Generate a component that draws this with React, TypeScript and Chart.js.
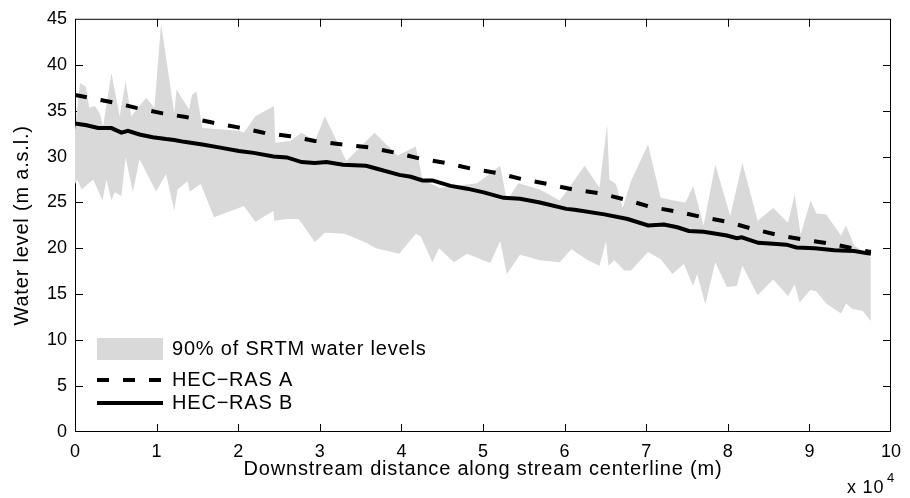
import React, { useEffect, useRef } from "react";
import { Chart, registerables } from "chart.js";

Chart.register(...registerables);

// Downstream distance (m) and water level (m a.s.l.)
const srtmUpperDist = [0, 608, 1338, 1740, 2433, 3041, 3443, 4465, 5474, 6204, 6898, 7701, 8723, 9732, 10547, 12165, 12445, 13990, 14319, 14878, 15608, 20073, 20681, 22105, 24392, 24538, 26363, 27774, 29404, 30620, 33248, 36703, 39538, 41764, 42579, 44611, 45827, 49270, 52105, 52920, 54343, 56971, 59404, 60219, 62445, 64270, 65207, 65487, 66302, 67117, 68127, 70231, 71776, 73394, 74124, 74818, 75754, 77044, 78467, 79891, 80292, 81788, 83662, 85560, 87384, 88200, 88930, 90146, 90839, 92056, 93881, 94489, 95499, 97530];
const srtmUpperLevel = [32.9, 38.0, 37.6, 35.3, 35.5, 34.7, 33.3, 39.1, 34.4, 38.2, 34.4, 35.3, 36.4, 35.3, 44.5, 34.7, 37.3, 35.1, 36.7, 37.1, 33.1, 32.8, 32.6, 34.4, 35.5, 31.5, 31.7, 32.6, 31.7, 34.4, 29.5, 32.6, 30.1, 31.1, 27.5, 26.6, 26.7, 27.1, 29.0, 25.2, 27.1, 26.4, 25.2, 26.2, 29.0, 26.6, 33.5, 27.5, 27.0, 24.4, 27.3, 31.3, 25.5, 25.2, 25.1, 25.0, 26.8, 22.5, 29.1, 24.8, 23.5, 29.3, 23.0, 24.4, 22.8, 25.9, 21.5, 25.2, 23.8, 23.7, 21.4, 22.5, 20.3, 19.0];

const srtmLowerDist = [0, 280, 815, 2226, 3370, 3856, 4465, 4866, 5681, 6204, 7092, 7908, 9939, 11156, 12165, 12567, 13783, 14075, 15414, 17032, 20073, 20681, 22105, 24331, 24416, 25949, 27372, 27981, 29404, 30620, 33054, 35681, 36898, 39745, 41764, 42372, 43796, 44611, 46436, 48054, 50888, 52105, 52920, 54538, 56971, 59404, 60827, 62859, 64270, 65085, 65365, 66095, 67311, 68127, 70231, 71776, 73200, 74611, 75754, 76241, 77251, 78467, 79891, 81100, 81788, 83662, 85560, 87384, 88200, 88808, 90146, 90839, 92056, 93881, 94489, 95292, 96509, 97530];
const srtmLowerLevel = [27.0, 27.5, 26.4, 27.5, 25.2, 27.5, 25.2, 26.1, 25.7, 29.9, 26.1, 29.7, 26.2, 28.1, 24.1, 26.4, 27.3, 26.2, 27.0, 23.4, 24.4, 24.6, 22.9, 24.1, 23.0, 23.2, 23.2, 22.5, 20.7, 21.7, 21.6, 20.6, 20.0, 19.4, 21.6, 21.3, 18.5, 20.0, 18.5, 19.4, 18.4, 20.8, 17.2, 19.3, 18.7, 18.5, 19.9, 18.7, 18.1, 20.8, 18.1, 18.7, 17.6, 17.6, 19.6, 18.8, 17.2, 18.3, 15.9, 17.2, 13.9, 18.5, 15.8, 15.9, 18.1, 14.9, 16.6, 14.8, 16.1, 14.1, 15.5, 15.3, 14.0, 12.9, 14.0, 13.4, 13.2, 12.1];

const hecADist = [0, 4659, 7506, 10742, 13589, 16825, 19866, 23114, 26363, 29404, 32847, 36095, 39331, 42178, 45414, 48455, 51703, 54951, 57993, 61034, 64270, 67518, 70560, 73808, 76849, 79891, 83127, 86375, 89623, 92665, 95900, 97530];
const hecALevel = [36.7, 35.9, 35.3, 34.7, 34.3, 33.7, 33.2, 32.6, 32.2, 31.7, 31.3, 31.0, 30.4, 29.8, 29.3, 28.7, 28.2, 27.5, 27.0, 26.4, 26.0, 25.3, 24.5, 24.0, 23.4, 22.9, 22.1, 21.4, 20.9, 20.5, 19.9, 19.6];

const hecBDist = [0, 1423, 2835, 4465, 5681, 6484, 7908, 9526, 11156, 12165, 13382, 15608, 17640, 20073, 21898, 24331, 25949, 27774, 29404, 30815, 32847, 35681, 36898, 39745, 41156, 42579, 43796, 46022, 48054, 50085, 52518, 54538, 56971, 60219, 61229, 64878, 67725, 70231, 72178, 73808, 75219, 77044, 79891, 81107, 81715, 83735, 85560, 87190, 88406, 90633, 93066, 95499, 97530];
const hecBLevel = [33.6, 33.4, 33.1, 33.1, 32.6, 32.8, 32.4, 32.1, 31.9, 31.8, 31.6, 31.3, 31.0, 30.6, 30.4, 30.0, 29.9, 29.4, 29.3, 29.4, 29.1, 29.0, 28.7, 28.0, 27.8, 27.4, 27.4, 26.8, 26.5, 26.1, 25.5, 25.4, 25.0, 24.3, 24.2, 23.7, 23.2, 22.5, 22.6, 22.3, 21.9, 21.8, 21.4, 21.1, 21.2, 20.6, 20.5, 20.4, 20.1, 20.0, 19.8, 19.7, 19.4];

const xTickValues = [0, 10000, 20000, 30000, 40000, 50000, 60000, 70000, 80000, 90000, 100000];
const yTickValues = [0, 5, 10, 15, 20, 25, 30, 35, 40, 45];

const seriesLabels = ["90% of SRTM water levels", "HEC\u2212RAS A", "HEC\u2212RAS B"];
const xTitle = "Downstream distance along stream centerline (m)";
const yTitle = "Water level (m a.s.l.)";

const FONT = '"Liberation Sans", Arial, Helvetica, sans-serif';
const GRAY = "rgb(217,217,217)";

const zip = (xs: number[], ys: number[]) => xs.map((x, i) => ({ x, y: ys[i] }));

const matlabAxes = {
  id: "matlabAxes",
  beforeDatasetsDraw(chart: any) {
    const { ctx, chartArea: a, scales } = chart;
    const x = scales.x;
    const y = scales.y;
    ctx.save();
    ctx.strokeStyle = "#000";
    ctx.lineWidth = 1;
    ctx.strokeRect(a.left + 0.5, a.top + 0.5, a.right - a.left - 1, a.bottom - a.top - 1);
    const tl = 8;
    ctx.beginPath();
    xTickValues.slice(1, -1).forEach((v) => {
      const px = Math.round(x.getPixelForValue(v)) + 0.5;
      ctx.moveTo(px, a.bottom);
      ctx.lineTo(px, a.bottom - tl);
      ctx.moveTo(px, a.top);
      ctx.lineTo(px, a.top + tl);
    });
    yTickValues.slice(1, -1).forEach((v) => {
      const py = Math.round(y.getPixelForValue(v)) + 0.5;
      ctx.moveTo(a.left, py);
      ctx.lineTo(a.left + tl, py);
      ctx.moveTo(a.right, py);
      ctx.lineTo(a.right - tl, py);
    });
    ctx.stroke();
    ctx.restore();
  },
  afterDraw(chart: any) {
    const { ctx, chartArea: a } = chart;
    ctx.save();
    ctx.fillStyle = "#000";
    (ctx as any).letterSpacing = "0.8px";
    // axis titles
    ctx.font = `20px ${FONT}`;
    ctx.textAlign = "center";
    ctx.textBaseline = "middle";
    ctx.fillText(xTitle, (a.left + a.right) / 2, 469);
    ctx.save();
    ctx.translate(22, (a.top + a.bottom) / 2);
    ctx.rotate(-Math.PI / 2);
    ctx.fillText(yTitle, 0, 0);
    ctx.restore();
    // exponent label
    ctx.textAlign = "left";
    ctx.font = `18px ${FONT}`;
    ctx.fillText("x 10", 847, 488);
    ctx.font = `13px ${FONT}`;
    ctx.fillText("4", 887, 478);

    // legend
    const ds = chart.data.datasets;
    const lx0 = 97;
    const lx1 = 163;
    ctx.fillStyle = ds[0].backgroundColor;
    ctx.fillRect(lx0, 338, lx1 - lx0, 22);
    ctx.strokeStyle = "#000";
    ctx.lineWidth = ds[2].borderWidth;
    ctx.setLineDash(ds[2].borderDash);
    ctx.beginPath();
    ctx.moveTo(lx0, 380);
    ctx.lineTo(lx1, 380);
    ctx.stroke();
    ctx.setLineDash([]);
    ctx.lineWidth = ds[3].borderWidth;
    ctx.beginPath();
    ctx.moveTo(lx0, 403);
    ctx.lineTo(lx1, 403);
    ctx.stroke();
    ctx.fillStyle = "#000";
    ctx.font = `20px ${FONT}`;
    ctx.textBaseline = "middle";
    ctx.fillText(seriesLabels[0], 172, 349);
    ctx.fillText(seriesLabels[1], 172, 380);
    ctx.fillText(seriesLabels[2], 172, 403);
    ctx.restore();
  },
};

export default function App() {
  const ref = useRef<HTMLCanvasElement | null>(null);
  useEffect(() => {
    if (!ref.current) return;
    const chart = new Chart(ref.current, {
      type: "line",
      data: {
        datasets: [
          {
            label: seriesLabels[0],
            data: zip(srtmUpperDist, srtmUpperLevel),
            borderWidth: 0,
            borderColor: GRAY,
            backgroundColor: GRAY,
            pointRadius: 0,
            fill: "+1",
            order: 3,
          },
          {
            label: "SRTM lower",
            data: zip(srtmLowerDist, srtmLowerLevel),
            borderWidth: 0,
            borderColor: GRAY,
            backgroundColor: GRAY,
            pointRadius: 0,
            fill: false,
            order: 4,
          },
          {
            label: seriesLabels[1],
            data: zip(hecADist, hecALevel),
            borderColor: "#000",
            borderWidth: 4,
            borderDash: [12, 14],
            borderCapStyle: "butt",
            pointRadius: 0,
            fill: false,
            order: 1,
          },
          {
            label: seriesLabels[2],
            data: zip(hecBDist, hecBLevel),
            borderColor: "#000",
            borderWidth: 4,
            pointRadius: 0,
            fill: false,
            order: 0,
          },
        ],
      } as any,
      options: {
        animation: false,
        responsive: false,
        maintainAspectRatio: false,
        layout: { padding: { left: 0, right: 13, top: 17, bottom: 0 } },
        plugins: { legend: { display: false }, tooltip: { enabled: false } },
        scales: {
          x: {
            type: "linear",
            min: 0,
            max: 100000,
            afterBuildTicks: (s: any) => {
              s.ticks = xTickValues.map((v) => ({ value: v }));
            },
            afterFit: (s: any) => {
              s.height = 66;
            },
            grid: { display: false, drawTicks: false },
            border: { display: false },
            ticks: {
              color: "#000",
              font: { family: FONT, size: 18 },
              padding: 9,
              maxRotation: 0,
              autoSkip: false,
              callback: (v: any) => String(Number(v) / 10000),
            },
          },
          y: {
            type: "linear",
            min: 0,
            max: 45,
            afterBuildTicks: (s: any) => {
              s.ticks = yTickValues.map((v) => ({ value: v }));
            },
            afterFit: (s: any) => {
              s.width = 75;
            },
            grid: { display: false, drawTicks: false },
            border: { display: false },
            ticks: {
              color: "#000",
              font: { family: FONT, size: 18 },
              padding: 8,
              autoSkip: false,
            },
          },
        },
      },
      plugins: [matlabAxes],
    });
    return () => chart.destroy();
  }, []);
  return (
    <div style={{ position: "absolute", left: 0, top: 0, width: 910, height: 498, background: "#fff" }}>
      <canvas ref={ref} width={910} height={498} style={{ display: "block" }} />
    </div>
  );
}
